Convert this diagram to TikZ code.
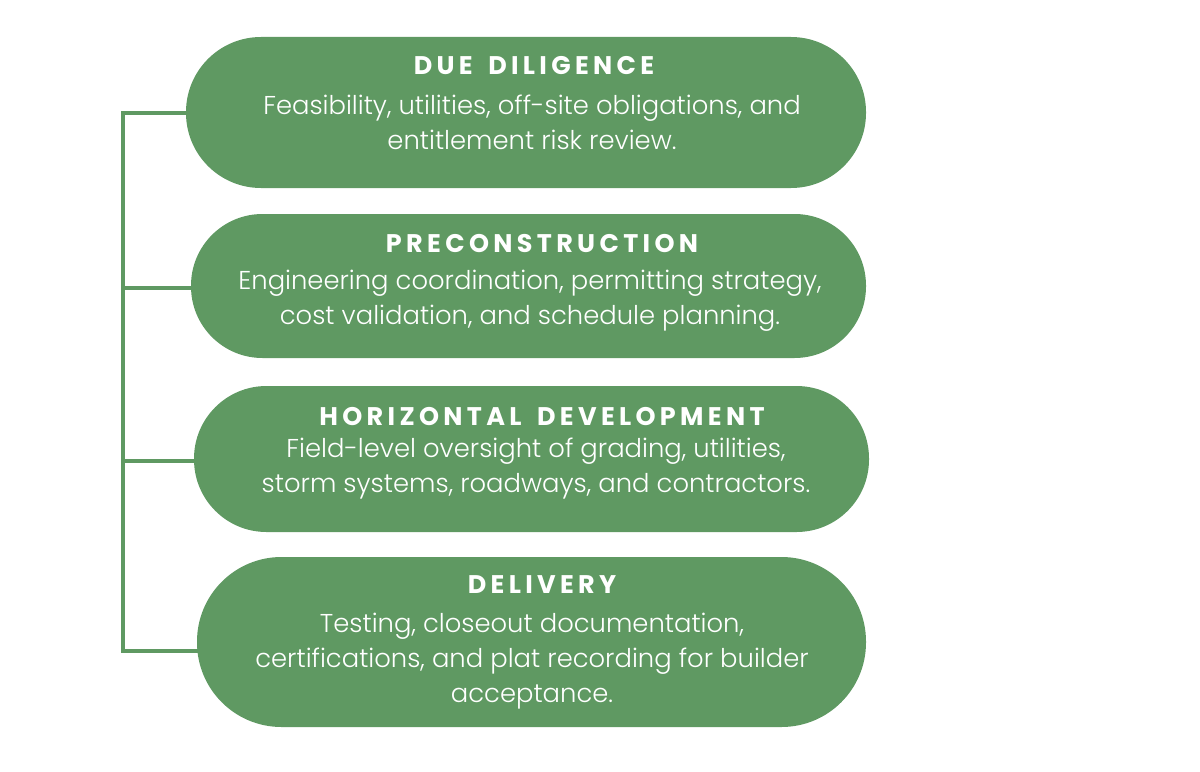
\documentclass[tikz,border=0pt]{standalone}
\usepackage{fontspec}
\usetikzlibrary{backgrounds}
\setmainfont{Poppins}
\newfontfamily\headfont[LetterSpace=17,WordSpace=1.6]{Poppins Bold}
\newfontfamily\bodyfont{Poppins Light}
\definecolor{leaf}{HTML}{5F9962}
\tikzset{
  pill/.style={fill=leaf,inner sep=0pt},
  head/.style={text=white,font=\headfont\fontsize{14.5}{16}\selectfont},
  body/.style={text=white,align=center,font=\bodyfont\fontsize{14.7}{19.8}\selectfont},
  spine/.style={leaf,line width=2.2pt}
}
\begin{document}
\begin{tikzpicture}
\useasboundingbox (0,0) rectangle (24,-15.42);
% spine
\coordinate (b1) at (2.46,-2.26);
\coordinate (b2) at (2.46,-5.76);
\coordinate (b3) at (2.46,-9.22);
\coordinate (b4) at (2.46,-13.02);
\node[pill,minimum width=13.6cm,minimum height=3.02cm,rounded corners=1.5cm] (p1) at (10.52,-2.25) {};
\node[pill,minimum width=13.5cm,minimum height=2.88cm,rounded corners=1.43cm] (p2) at (10.57,-5.72) {};
\node[pill,minimum width=13.5cm,minimum height=2.92cm,rounded corners=1.45cm] (p3) at (10.63,-9.18) {};
\node[pill,minimum width=13.38cm,minimum height=3.4cm,rounded corners=1.69cm] (p4) at (10.63,-12.84) {};
\begin{pgfonlayer}{background}
\draw[spine] (b1 -| p1.center) -- (b1) -- (b4) -- (b4 -| p4.center);
\draw[spine] (b2) -- (b2 -| p2.center);
\draw[spine] (b3) -- (b3 -| p3.center);
\end{pgfonlayer}
% labels
\node[head] (h1) at (10.68,-1.32) {DUE DILIGENCE};
\node[body] (d1) at (10.64,-2.44) {Feasibility, utilities, off-site obligations, and\\entitlement risk review.};
\node[head] (h2) at (10.84,-4.88) {PRECONSTRUCTION};
\node[body] (d2) at (10.6,-6.02) {Engineering coordination, permitting strategy,\\cost validation, and schedule planning.};
\node[head] (h3) at (10.84,-8.33) {HORIZONTAL DEVELOPMENT};
\node[body] (d3) at (10.72,-9.37) {Field-level oversight of grading, utilities,\\storm systems, roadways, and contractors.};
\node[head] (h4) at (10.84,-11.70) {DELIVERY};
\node[body] (d4) at (10.64,-13.22) {Testing, closeout documentation,\\certifications, and plat recording for builder\\acceptance.};
\end{tikzpicture}
\end{document}
